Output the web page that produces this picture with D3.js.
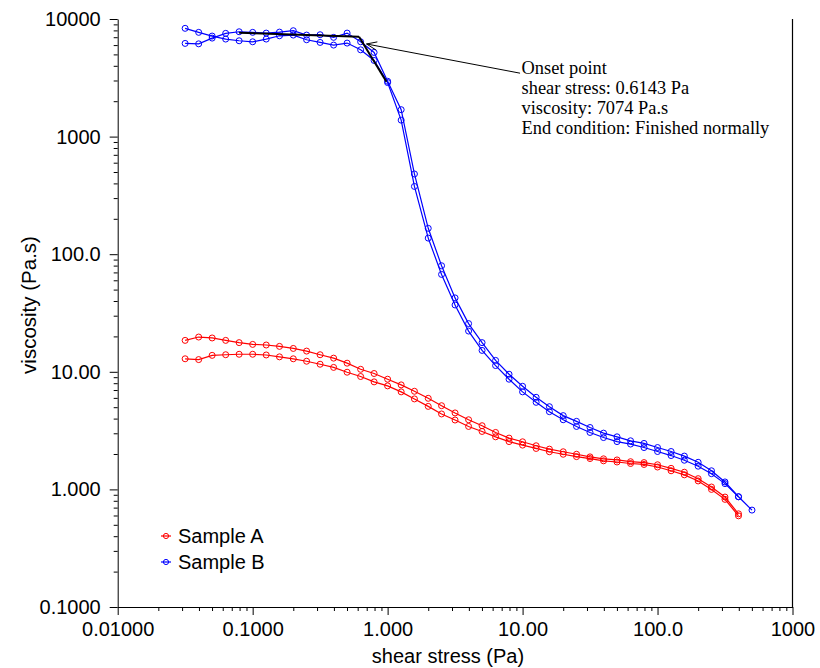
<!DOCTYPE html>
<html><head><meta charset="utf-8">
<script src="https://cdn.jsdelivr.net/npm/d3@7"></script>
<style>
body{margin:0;background:#fff}
svg text{font-family:"Liberation Sans",Arial,sans-serif;fill:#000}
</style>
</head><body><svg id="chart" width="820" height="668"></svg>
<script>
// ---------- data ----------
const shearStress = [0.0316,0.0398,0.0501,0.0631,0.0794,0.1,0.126,0.158,0.2,0.251,
  0.316,0.398,0.501,0.631,0.794,1.0,1.26,1.58,2.0,2.51,
  3.16,3.98,5.01,6.31,7.94,10,12.6,15.8,20,25.1,
  31.6,39.8,50.1,63.1,79.4,100,126,158,200,251,
  316,398,501];
const sampleA_run1 = [18.5,19.75,19.4,18.5,17.7,17.1,16.9,16.45,15.8,15.0,
  13.97,13.07,11.84,10.5,9.67,8.65,7.74,6.83,5.95,5.15,
  4.47,3.91,3.48,3.05,2.73,2.54,2.35,2.20,2.09,1.99,
  1.89,1.82,1.78,1.72,1.69,1.62,1.51,1.40,1.234,1.048,
  0.861,0.62];
const sampleA_run2 = [12.9,12.7,13.8,13.97,14.1,14.1,13.9,13.4,12.9,12.3,
  11.6,10.9,9.92,9.12,8.21,7.59,6.75,5.88,5.08,4.38,
  3.89,3.43,3.11,2.80,2.55,2.38,2.23,2.09,1.99,1.90,
  1.83,1.75,1.71,1.66,1.63,1.55,1.44,1.33,1.18,1.00,
  0.823,0.596];
const sampleB_run1 = [8330,7700,7160,6750,6530,6400,6750,7200,7300,6660,
  6320,6000,6240,5470,4440,2880,1380,377,137,67.3,
  37.0,22.2,15.2,11.3,8.65,6.75,5.50,4.58,3.91,3.43,
  3.05,2.76,2.55,2.43,2.27,2.10,1.94,1.77,1.575,1.36,
  1.12,0.866];
const sampleB_run2 = [6200,6150,6880,7550,7790,7700,7590,7740,7950,7300,
  7350,6980,7590,6400,5195,2955,1694,481,166,79.8,
  42.5,25.7,17.7,12.5,9.54,7.53,6.07,5.05,4.24,3.79,
  3.36,3.01,2.80,2.59,2.46,2.27,2.10,1.92,1.70,1.44,
  1.157,0.866,0.667];

const xTickValues = [0.01,0.1,1,10,100,1000];
const xTickLabels = ["0.01000","0.1000","1.000","10.00","100.0","1000"];
const yTickValues = [0.1,1,10,100,1000,10000];
const yTickLabels = ["0.1000","1.000","10.00","100.0","1000","10000"];

const onsetStress = 0.6143, onsetViscosity = 7074;
const tangentPlateau = [[0.0794,7650],[onsetStress,onsetViscosity]];
const tangentDrop = [[onsetStress,onsetViscosity],[0.98,2930]];
const annotationLines = ["Onset point","shear stress: 0.6143 Pa","viscosity: 7074 Pa.s","End condition: Finished normally"];

const seriesNames = ["Sample A","Sample B"];
const seriesColors = ["#ff0000","#0000ff"];

// ---------- layout ----------
const svg = d3.select("#chart");
const pLeft = 117.7, pRight = 792.5, pTop = 19, pBottom = 607;
const x = d3.scaleLog().domain([0.01,1000]).range([pLeft,pRight]);
const y = d3.scaleLog().domain([0.1,10000]).range([pBottom,pTop]);

function minorTicks(lo, hi){
  const out=[];
  for(let e=Math.round(Math.log10(lo)); e<Math.round(Math.log10(hi)); e++){
    for(let m=2;m<=9;m++) out.push(m*Math.pow(10,e));
  }
  return out;
}

// x axis
svg.append("g").attr("transform",`translate(0,${pBottom})`)
  .call(d3.axisBottom(x).tickValues(minorTicks(0.01,1000)).tickSize(4).tickSizeOuter(0).tickFormat(""))
  .call(g=>g.select(".domain").remove());
const xa = svg.append("g").attr("transform",`translate(0,${pBottom})`)
  .call(d3.axisBottom(x).tickValues(xTickValues).tickSize(8).tickSizeOuter(0).tickPadding(7)
    .tickFormat((d,i)=>xTickLabels[i]));
xa.selectAll("text").style("font-size","20px");

// y axis
svg.append("g").attr("transform",`translate(${pLeft},0)`)
  .call(d3.axisLeft(y).tickValues(minorTicks(0.1,10000)).tickSize(4).tickSizeOuter(0).tickFormat(""))
  .call(g=>g.select(".domain").remove());
const ya = svg.append("g").attr("transform",`translate(${pLeft},0)`)
  .call(d3.axisLeft(y).tickValues(yTickValues).tickSize(8).tickSizeOuter(0).tickPadding(9)
    .tickFormat((d,i)=>yTickLabels[i]));
ya.selectAll("text").style("font-size","20px");
svg.selectAll(".domain").attr("stroke","#000");

// right border
svg.append("line").attr("x1",pRight).attr("x2",pRight).attr("y1",pTop).attr("y2",pBottom)
  .attr("stroke","#000").attr("stroke-width",1.2);

// axis titles
svg.append("text").attr("x",448).attr("y",663).attr("text-anchor","middle")
  .style("font-size","20px").text("shear stress (Pa)");
svg.append("text").attr("transform","translate(36,305) rotate(-90)").attr("text-anchor","middle")
  .style("font-size","20.5px").text("viscosity (Pa.s)");

// series
const line = d3.line().x(d=>x(d[0])).y(d=>y(d[1]));
const runs = [
  {vals:sampleA_run1, c:seriesColors[0]},
  {vals:sampleA_run2, c:seriesColors[0]},
  {vals:sampleB_run1, c:seriesColors[1]},
  {vals:sampleB_run2, c:seriesColors[1]}
];
runs.forEach(r=>{
  const pts = r.vals.map((v,i)=>[shearStress[i],v]);
  svg.append("path").attr("d",line(pts)).attr("fill","none").attr("stroke",r.c).attr("stroke-width",1.2);
  svg.append("g").selectAll("circle").data(pts).join("circle")
    .attr("cx",d=>x(d[0])).attr("cy",d=>y(d[1])).attr("r",3)
    .attr("fill","none").attr("stroke",r.c).attr("stroke-width",1);
});

// tangent construction lines
[tangentPlateau,tangentDrop].forEach(seg=>{
  svg.append("path").attr("d",line(seg)).attr("fill","none").attr("stroke","#000").attr("stroke-width",2);
});

// annotation
const ox = x(onsetStress), oy = y(onsetViscosity);
const tip = [ox+7.5, oy+7.3];
const tail = [ox+161, oy+36.5];
svg.append("line").attr("x1",tail[0]).attr("y1",tail[1]).attr("x2",tip[0]).attr("y2",tip[1])
  .attr("stroke","#000").attr("stroke-width",1);
const ang = Math.atan2(tail[1]-tip[1], tail[0]-tip[0]);
[-0.38,0.38].forEach(da=>{
  svg.append("line").attr("x1",tip[0]).attr("y1",tip[1])
    .attr("x2",tip[0]+11*Math.cos(ang+da)).attr("y2",tip[1]+11*Math.sin(ang+da))
    .attr("stroke","#000").attr("stroke-width",1);
});
svg.append("g").selectAll("text").data(annotationLines).join("text")
  .attr("x",ox+162.5).attr("y",(d,i)=>oy+37.6+i*19.8)
  .style("font-family","'Liberation Serif','Times New Roman',serif").style("font-size","18.4px")
  .text(d=>d);

// legend
const lg = svg.append("g").attr("transform","translate(166,536)");
seriesNames.forEach((n,i)=>{
  const g = lg.append("g").attr("transform",`translate(0,${i*26})`);
  g.append("line").attr("x1",-5).attr("x2",5).attr("stroke",seriesColors[i]).attr("stroke-width",1.2);
  g.append("circle").attr("r",2.6).attr("fill","none").attr("stroke",seriesColors[i]);
  g.append("text").attr("x",12).attr("y",7).style("font-size","20px").text(n);
});
</script>
</body></html>
